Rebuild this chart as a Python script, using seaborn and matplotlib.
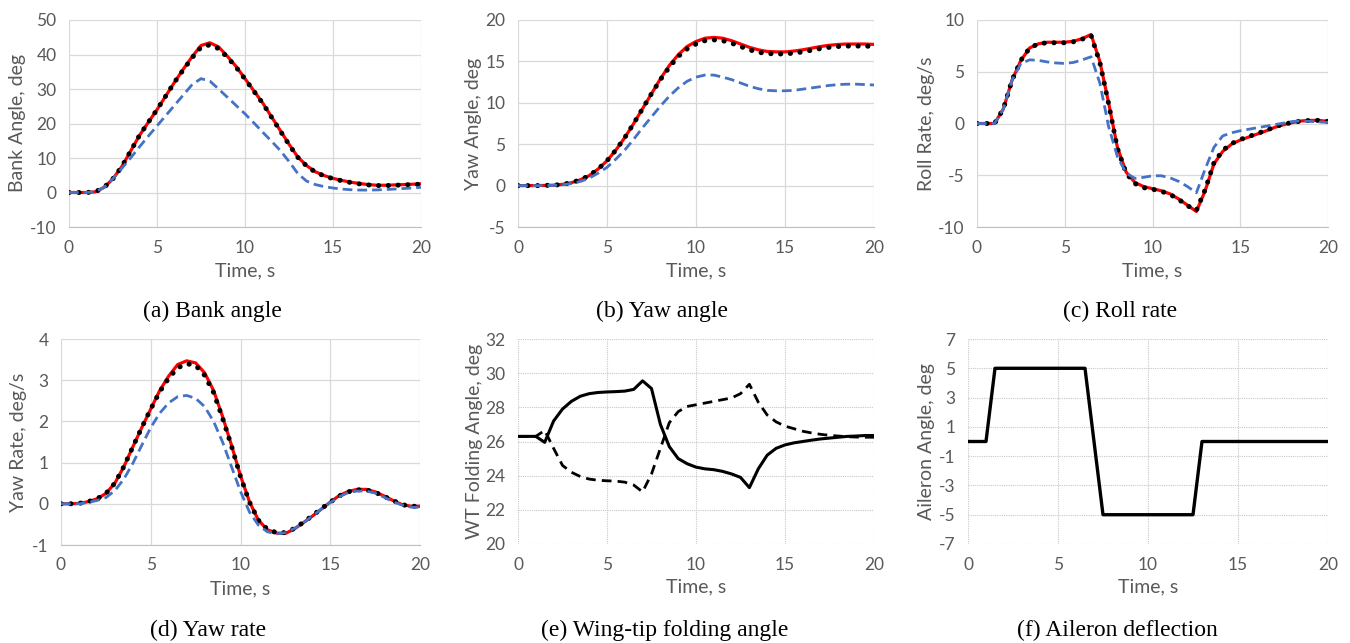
"""
Six panel time history of a roll manoeuvre: bank angle, yaw angle,
roll rate, yaw rate, wing-tip folding angle and aileron deflection.
Saves the figure to out.png.
"""
import seaborn as sns
import matplotlib.pyplot as plt


TIME = [0, 0.5, 1, 1.5, 2, 2.5, 3, 3.5, 4, 4.5,
        5, 5.5, 6, 6.5, 7, 7.5, 8, 8.5, 9, 9.5,
        10, 10.5, 11, 11.5, 12, 12.5, 13, 13.5, 14, 14.5,
        15, 15.5, 16, 16.5, 17, 17.5, 18, 18.5, 19, 19.5,
        20]

BANK_RED = [0, 0, 0, 0.2, 1.5, 4, 7.5, 12, 16.5, 20.3,
            24, 28, 32, 35.8, 39.4, 42.6, 43.4, 42.2, 39.5, 36.5,
            33, 29.5, 26, 22, 18, 14, 10.3, 7.8, 6, 4.9,
            4.1, 3.5, 3, 2.6, 2.3, 2.1, 2.1, 2.2, 2.3, 2.4,
            2.5]
BANK_BLACK = [0, 0, 0, 0.2, 1.5, 4, 7.5, 12, 16.5, 20.3,
              24, 28, 32, 35.6, 39.1, 42.1, 42.8, 41.7, 39.2, 36.3,
              32.9, 29.4, 25.9, 21.9, 17.9, 13.9, 10.2, 7.7, 5.9, 4.8,
              4, 3.4, 2.9, 2.5, 2.2, 2, 2, 2.1, 2.2, 2.3,
              2.4]
BANK_BLUE = [0, 0, 0, 0.2, 1.5, 4, 7, 10, 13.2, 16.3,
             19.3, 22.3, 25.3, 28.3, 31.3, 33, 32.3, 30, 27.6, 25.2,
             22.8, 20.2, 17.5, 14.9, 12.2, 9, 5.5, 3.3, 2.3, 1.7,
             1.3, 1, 0.8, 0.7, 0.7, 0.75, 0.85, 1, 1.15, 1.3,
             1.5]

YAW_RED = [0, 0, 0, 0.02, 0.05, 0.15, 0.35, 0.7, 1.2, 2,
           3, 4.3, 5.8, 7.5, 9.3, 11.1, 12.9, 14.5, 15.8, 16.8,
           17.4, 17.8, 17.9, 17.8, 17.5, 17.1, 16.7, 16.4, 16.2, 16.15,
           16.15, 16.25, 16.4, 16.6, 16.8, 16.95, 17.05, 17.1, 17.1, 17.1,
           17.05]
YAW_BLACK = [0, 0, 0, 0.02, 0.05, 0.15, 0.35, 0.7, 1.2, 2,
             3, 4.3, 5.8, 7.5, 9.3, 11.1, 12.8, 14.3, 15.6, 16.5,
             17.1, 17.5, 17.6, 17.5, 17.2, 16.8, 16.4, 16.1, 15.95, 15.9,
             15.9, 16, 16.15, 16.35, 16.55, 16.7, 16.8, 16.85, 16.85, 16.85,
             16.8]
YAW_BLUE = [0, 0, 0, 0.01, 0.03, 0.1, 0.25, 0.5, 0.9, 1.5,
            2.2, 3.2, 4.3, 5.6, 7, 8.3, 9.6, 10.8, 11.8, 12.6,
            13.1, 13.35, 13.35, 13.1, 12.8, 12.4, 12, 11.7, 11.5, 11.45,
            11.45, 11.5, 11.65, 11.8, 11.95, 12.1, 12.2, 12.25, 12.25, 12.2,
            12.15]

ROLL_RED = [0, 0, 0, 1.4, 4.2, 6.1, 7.3, 7.7, 7.85, 7.85,
            7.85, 7.95, 8.2, 8.6, 6, 2, -2.3, -4.7, -5.7, -6.1,
            -6.3, -6.5, -6.8, -7.3, -7.9, -8.5, -6.5, -3.9, -2.7, -2.0,
            -1.6, -1.3, -1.0, -0.7, -0.35, -0.1, 0.1, 0.25, 0.3, 0.3,
            0.2]
ROLL_BLACK = [0, 0, 0, 1.4, 4.2, 6.1, 7.3, 7.7, 7.8, 7.8,
              7.8, 7.9, 8.15, 8.5, 5.9, 1.9, -2.4, -4.8, -5.8, -6.2,
              -6.35, -6.55, -6.85, -7.35, -7.95, -8.4, -6.4, -3.8, -2.6, -1.95,
              -1.55, -1.25, -0.95, -0.65, -0.3, -0.05, 0.1, 0.25, 0.3, 0.3,
              0.2]
ROLL_BLUE = [0, 0, 0, 1.4, 4.2, 5.8, 6.15, 6.1, 5.95, 5.85,
             5.8, 5.9, 6.15, 6.45, 3.9, -0.3, -3.2, -4.8, -5.3, -5.2,
             -5.05, -5.05, -5.25, -5.6, -6.1, -6.7, -4.4, -2.3, -1.2, -0.9,
             -0.7, -0.55, -0.4, -0.25, -0.1, 0.05, 0.2, 0.25, 0.2, 0.15,
             0.1]

YAWRATE_RED = [0, 0, 0.01, 0.05, 0.12, 0.25, 0.5, 0.9, 1.38, 1.85,
               2.3, 2.75, 3.1, 3.38, 3.47, 3.42, 3.18, 2.75, 2.12, 1.42,
               0.68, 0.05, -0.4, -0.63, -0.71, -0.72, -0.61, -0.46, -0.3, -0.13,
               0.04, 0.2, 0.3, 0.35, 0.35, 0.29, 0.19, 0.08, -0.02, -0.06,
               -0.06]
YAWRATE_BLACK = [0, 0, 0.01, 0.05, 0.12, 0.25, 0.5, 0.9, 1.38, 1.85,
                 2.3, 2.72, 3.05, 3.3, 3.4, 3.36, 3.12, 2.7, 2.08, 1.4,
                 0.66, 0.04, -0.4, -0.62, -0.7, -0.7, -0.6, -0.45, -0.29, -0.12,
                 0.04, 0.19, 0.29, 0.34, 0.34, 0.28, 0.18, 0.08, -0.02, -0.06,
                 -0.06]
YAWRATE_BLUE = [0, 0, 0, 0.03, 0.08, 0.15, 0.32, 0.6, 0.98, 1.42,
                1.85, 2.2, 2.45, 2.6, 2.63, 2.56, 2.36, 2.0, 1.5, 0.9,
                0.3, -0.2, -0.52, -0.68, -0.73, -0.7, -0.6, -0.46, -0.3, -0.13,
                0.03, 0.17, 0.27, 0.31, 0.31, 0.26, 0.16, 0.05, -0.03, -0.08,
                -0.09]

FOLD_SOLID = [26.3, 26.3, 26.3, 25.95, 27.2, 27.9, 28.35, 28.65, 28.8, 28.87,
              28.9, 28.92, 28.95, 29.05, 29.55, 29.1, 27.0, 25.7, 25.0, 24.7,
              24.5, 24.4, 24.35, 24.25, 24.1, 23.9, 23.3, 24.4, 25.2, 25.6,
              25.8, 25.92, 26.0, 26.08, 26.15, 26.2, 26.25, 26.3, 26.32, 26.35,
              26.35]
FOLD_DASHED = [26.3, 26.3, 26.3, 26.65, 25.6, 24.6, 24.2, 23.95, 23.8, 23.73,
               23.7, 23.68, 23.62, 23.45, 23.05, 24.1, 25.6, 27.1, 27.75, 28.05,
               28.15, 28.25, 28.35, 28.45, 28.55, 28.8, 29.35, 28.3, 27.55, 27.15,
               26.9, 26.75, 26.6, 26.5, 26.42, 26.36, 26.32, 26.28, 26.26, 26.25,
               26.25]

AIL_TIME = [0, 1, 1.5, 6.5, 7.5, 12.5, 13, 20]
AIL_ANGLE = [0, 0, 5, 5, -5, -5, 0, 0]

X_TICKS = [0, 5, 10, 15, 20]

GREY = "#595959"
RED = "#FF0000"
BLUE = "#4472C4"

W, H = 1350, 643


def make_axes(fig, left, right, top, bottom):
    """Adds an axes given its pixel box (top-left origin)."""
    return fig.add_axes([left / W, 1 - bottom / H,
                         (right - left) / W, (bottom - top) / H])


def style_axes(ax, ylim, yticks, ylabel, ylab_x, dotted=False):
    """Excel-like look: light grid, grey ticks, no spines."""
    ax.set_xlim(0, 20)
    ax.set_ylim(*ylim)
    ax.set_xticks(X_TICKS)
    ax.set_yticks(yticks)
    for s in ax.spines.values():
        s.set_visible(False)
    if dotted:
        ax.grid(True, color="#C8C8C8", lw=0.8, ls=(0, (1, 1)))
    else:
        ax.grid(True, color="#D9D9D9", lw=0.9)
        ax.spines['bottom'].set_visible(True)
        ax.spines['bottom'].set_color("#BFBFBF")
    ax.set_axisbelow(True)
    ax.tick_params(length=0, pad=9, labelsize=12.5, labelcolor=GREY)
    ax.set_xlabel("Time, s", fontsize=14, color=GREY)
    ax.set_ylabel(ylabel, fontsize=14, color=GREY)
    ax.xaxis.set_label_coords(0.5, -0.17)
    ax.yaxis.set_label_coords(ylab_x, 0.5)


def three_lines(ax, red, black, blue):
    """Draws the red solid, black dotted and blue dashed series."""
    sns.lineplot(x=TIME, y=red, ax=ax, color=RED, lw=2.3)
    sns.lineplot(x=TIME, y=black, ax=ax, color="black", lw=3.6,
                 ls=(0, (0.05, 1.9)), dash_capstyle='round')
    sns.lineplot(x=TIME, y=blue, ax=ax, color=BLUE, lw=2.0,
                 ls=(0, (3.5, 1.8)))


def caption(fig, x, y, text):
    fig.text(x / W, 1 - y / H, text, ha='center', va='center',
             fontsize=17, family='Liberation Serif', color='black')


def main():
    sns.set_style('white')
    plt.rcParams['font.family'] = ['Lato', 'DejaVu Sans']
    plt.rcParams['axes.unicode_minus'] = False
    fig = plt.figure(figsize=(13.5, 6.43), dpi=100)

    ax = make_axes(fig, 69, 421, 20, 227)
    three_lines(ax, BANK_RED, BANK_BLACK, BANK_BLUE)
    style_axes(ax, (-10, 50), [-10, 0, 10, 20, 30, 40, 50],
               "Bank Angle, deg", -0.122)
    caption(fig, 212, 311, "(a) Bank angle")

    ax = make_axes(fig, 518, 874, 20, 227)
    three_lines(ax, YAW_RED, YAW_BLACK, YAW_BLUE)
    style_axes(ax, (-5, 20), [-5, 0, 5, 10, 15, 20],
               "Yaw Angle, deg", -0.101)
    caption(fig, 662, 311, "(b) Yaw angle")

    ax = make_axes(fig, 977, 1328, 20, 227)
    three_lines(ax, ROLL_RED, ROLL_BLACK, ROLL_BLUE)
    style_axes(ax, (-10, 10), [-10, -5, 0, 5, 10],
               "Roll Rate, deg/s", -0.120)
    caption(fig, 1120, 311, "(c) Roll rate")

    ax = make_axes(fig, 61, 420, 339, 545)
    three_lines(ax, YAWRATE_RED, YAWRATE_BLACK, YAWRATE_BLUE)
    style_axes(ax, (-1, 4), [-1, 0, 1, 2, 3, 4],
               "Yaw Rate, deg/s", -0.095)
    caption(fig, 208, 630, "(d) Yaw rate")

    ax = make_axes(fig, 518, 874, 339, 544)
    sns.lineplot(x=TIME, y=FOLD_SOLID, ax=ax, color="black", lw=2.2)
    sns.lineplot(x=TIME, y=FOLD_DASHED, ax=ax, color="black", lw=2.0,
                 ls=(0, (3.5, 2.2)))
    style_axes(ax, (20, 32), [20, 22, 24, 26, 28, 30, 32],
               "WT Folding Angle, deg", -0.098, dotted=True)
    caption(fig, 665, 630, "(e) Wing-tip folding angle")

    ax = make_axes(fig, 968, 1328, 339, 544)
    sns.lineplot(x=AIL_TIME, y=AIL_ANGLE, ax=ax, color="black", lw=2.4)
    style_axes(ax, (-7, 7), [-7, -5, -3, -1, 1, 3, 5, 7],
               "Aileron Angle, deg", -0.092, dotted=True)
    caption(fig, 1117, 630, "(f) Aileron deflection")

    fig.savefig('out.png', dpi=100)


if __name__ == '__main__':
    main()
